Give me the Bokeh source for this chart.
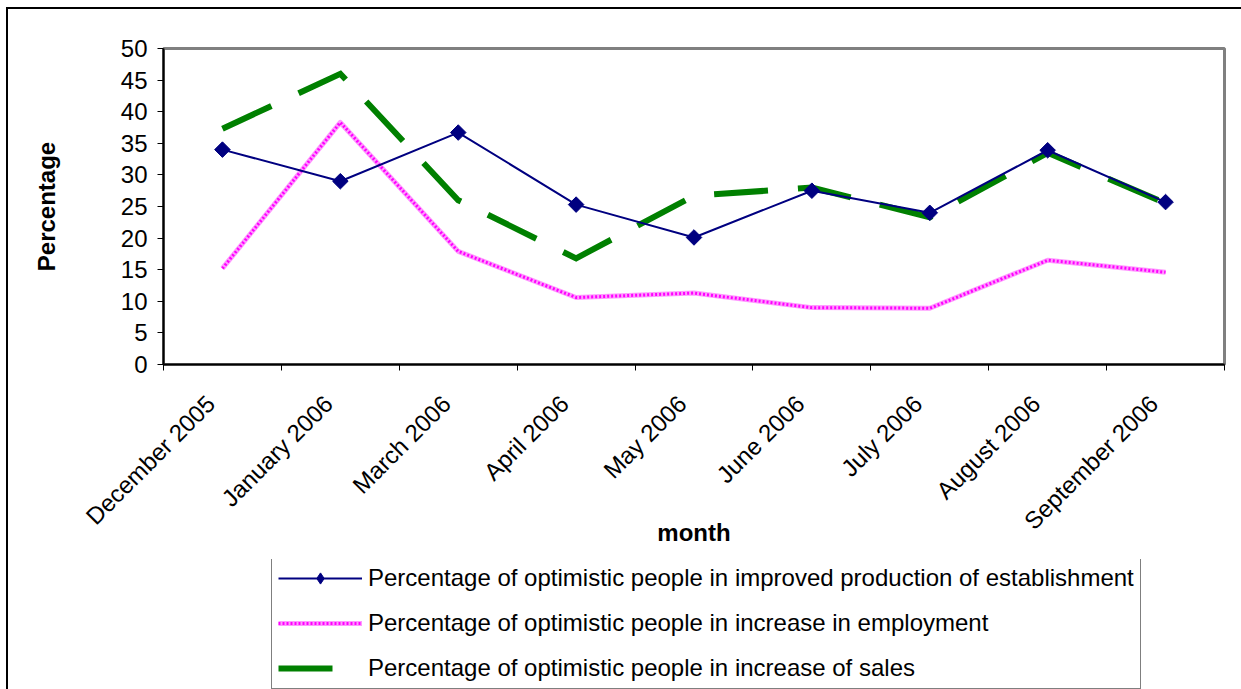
import math
from bokeh.plotting import figure
from bokeh.layouts import column
from bokeh.models import Range1d, FixedTicker, Legend, LegendItem
from bokeh.embed import file_html
from bokeh.resources import INLINE

months = ["December 2005", "January 2006", "March 2006", "April 2006", "May 2006",
          "June 2006", "July 2006", "August 2006", "September 2006"]
production = [34.0, 29.0, 36.7, 25.3, 20.1, 27.5, 24.0, 33.9, 25.7]
employment = [15.2, 38.3, 17.9, 10.6, 11.3, 9.0, 8.9, 16.5, 14.6]
sales = [37.3, 46.0, 26.0, 16.8, 26.7, 28.0, 23.3, 33.5, 25.5]
y_ticks = list(range(0, 55, 5))

label_production = "Percentage of optimistic people in improved production of establishment"
label_employment = "Percentage of optimistic people in increase in employment"
label_sales = "Percentage of optimistic people in increase of sales"

xs = [i + 0.5 for i in range(len(months))]
label_pos = [x - 0.1 for x in xs]   # rotated labels end slightly left of the category centre

FONT = "Liberation Sans"
NAN = float("nan")

# styles shared by chart lines and legend glyphs
EMP_BASE = dict(line_color="#ff99ff", line_width=5, line_join="round")
EMP_DOTS = dict(line_color="#ff00ff", line_width=3, line_dash="2 2")
SALES = dict(line_color="#008000", line_width=6, line_dash="54 30", line_join="miter")
PROD = dict(line_color="#000080", line_width=2)
PROD_M = dict(marker="square", size=11, angle=math.pi / 4, fill_color="#000080", line_color="#000080")
PROD_M_LEG = dict(marker="diamond", size=17, fill_color="#000080", line_color="#000080")

p = figure(width=1233, height=550, output_backend="svg", toolbar_location=None,
           x_range=Range1d(0, len(months)), y_range=Range1d(0, 50),
           min_border_left=155, min_border_top=39, min_border_right=17, min_border_bottom=195)

p.xgrid.visible = False
p.ygrid.visible = False
p.outline_line_color = "#808080"
p.outline_line_width = 3

# axes
p.xaxis.ticker = FixedTicker(ticks=label_pos, minor_ticks=list(range(len(months) + 1)))
p.xaxis.major_label_overrides = {x: m for x, m in zip(label_pos, months)}
p.xaxis.major_label_orientation = math.pi / 4
p.xaxis.major_tick_line_color = None
p.xaxis.major_tick_out = 0
p.xaxis.major_tick_in = 0
p.xaxis.minor_tick_out = 6
p.xaxis.minor_tick_in = 0
p.xaxis.minor_tick_line_color = "#000000"
p.xaxis.minor_tick_line_width = 1
p.xaxis.major_label_standoff = 29
p.xaxis.axis_label = "month"
p.xaxis.axis_label_standoff = -28

p.yaxis.ticker = FixedTicker(ticks=y_ticks)
p.yaxis.minor_tick_line_color = None
p.yaxis.major_tick_out = 6
p.yaxis.major_tick_in = 0
p.yaxis.major_tick_line_color = "#000000"
p.yaxis.major_label_standoff = 10
p.yaxis.axis_label = "Percentage"
p.yaxis.axis_label_standoff = 58

for ax in (p.xaxis, p.yaxis):
    ax.axis_line_color = "#000000"
    ax.axis_line_width = 2
    ax.major_label_text_font = FONT
    ax.major_label_text_color = "#000000"
    ax.major_label_text_font_size = "24px"
    ax.axis_label_text_font = FONT
    ax.axis_label_text_font_size = "24px"
    ax.axis_label_text_font_style = "bold"
    ax.axis_label_text_color = "#000000"

# series
p.line(xs, employment, **EMP_BASE)
p.line(xs, employment, **EMP_DOTS)
p.line(xs, sales, **SALES)
p.line(xs, production, **PROD)
p.scatter(xs, production, **PROD_M)

# legend panel (separate figure below the chart so the legend is not clipped)
q = figure(width=1233, height=130, output_backend="svg", toolbar_location=None,
           x_range=Range1d(0, 1), y_range=Range1d(0, 1),
           x_axis_type=None, y_axis_type=None,
           min_border_left=0, min_border_right=0, min_border_top=0, min_border_bottom=0)
q.xgrid.visible = False
q.ygrid.visible = False
q.outline_line_color = None

g_prod = q.line([NAN], [NAN], **PROD)
g_prod_m = q.scatter([NAN], [NAN], **PROD_M_LEG)
g_emp_base = q.line([NAN], [NAN], **EMP_BASE)
g_emp_dots = q.line([NAN], [NAN], **EMP_DOTS)
g_sales = q.line([NAN], [NAN], **SALES)

legend = Legend(items=[
    LegendItem(label=label_production, renderers=[g_prod, g_prod_m]),
    LegendItem(label=label_employment, renderers=[g_emp_base, g_emp_dots]),
    LegendItem(label=label_sales, renderers=[g_sales]),
], location=(108, 0))
legend.glyph_width = 84
legend.glyph_height = 28
legend.label_height = 28
legend.label_standoff = 6
legend.spacing = 17
legend.padding = 6
legend.label_text_font = FONT
legend.label_text_font_size = "24px"
legend.label_text_color = "#000000"
legend.border_line_color = "#000000"
legend.border_line_width = 1
legend.background_fill_color = "#ffffff"
legend.background_fill_alpha = 1
q.add_layout(legend, "center")

layout = column(p, q, spacing=0,
                styles={"margin-left": "6px", "margin-top": "7px",
                        "border-left": "2px solid #000000", "border-top": "2px solid #000000"})

open("out.html", "w").write(file_html(layout, INLINE))
